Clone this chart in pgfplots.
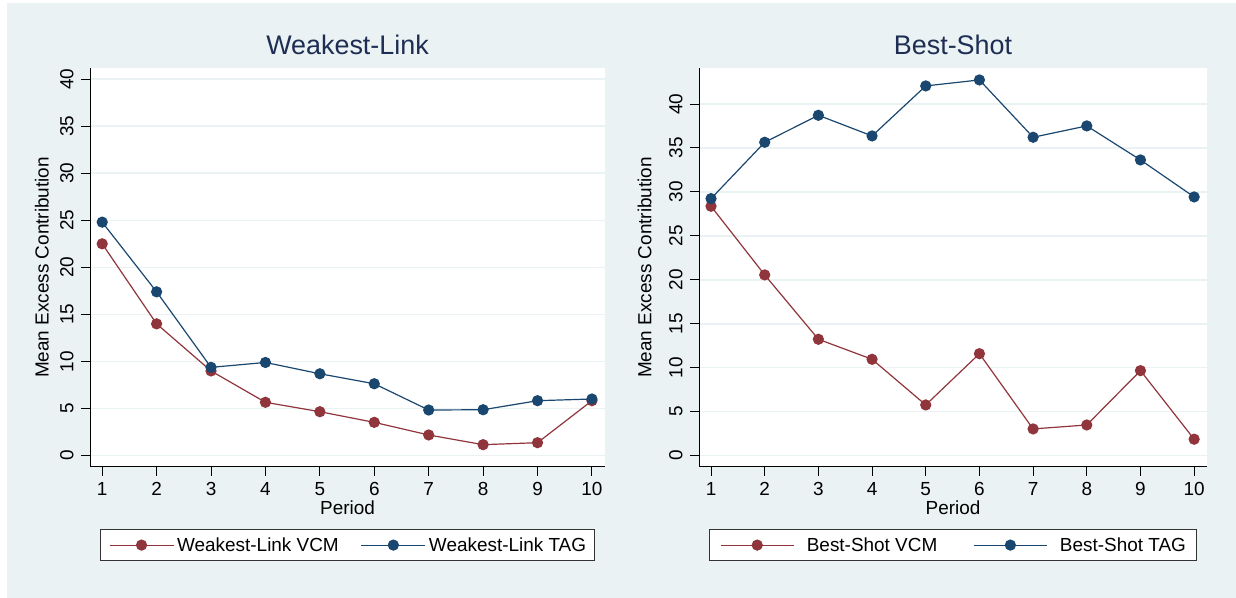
\documentclass[border=0pt]{standalone}
\usepackage{pgfplots}
\pgfplotsset{compat=1.18}
\usepackage{fontspec}
\setmainfont{Liberation Sans}

\definecolor{bgc}{RGB}{234,242,243}
\definecolor{gridc}{RGB}{234,242,243}
\definecolor{snavy}{RGB}{26,71,111}
\definecolor{smaroon}{RGB}{144,53,59}
\definecolor{titlec}{RGB}{30,45,83}

\pgfplotsset{
  stata/.style={
    scale only axis,
    width=#1, height=399bp,
    anchor=south west,
    axis x line*=bottom, axis y line*=left,
    axis line style={-, black, line width=1bp},
    axis background/.style={fill=white},
    tick align=outside,
    major tick length=9bp,
    tick style={black, line width=1bp},
    ymajorgrids, grid style={gridc, line width=1.5bp},
    xtick={1,...,10}, ytick={0,5,...,40},
    xmin=0.776, xmax=10.24,
    /pgf/number format/assume math mode=true,
    ticklabel style={font=\fontsize{19}{19}\selectfont},
    yticklabel style={rotate=90, anchor=south, yshift=4bp},
    xticklabel style={yshift=-3bp},
    xlabel={Period}, ylabel={Mean Excess Contribution},
    label style={font=\fontsize{19}{19}\selectfont},
    xlabel style={at={(axis description cs:0.5,0)}, anchor=base, yshift=-48bp},
    title style={at={(axis description cs:0.5,1)}, anchor=base, yshift=8bp,
      font=\fontsize{27}{27}\selectfont, text=titlec},
    legend columns=2,
    legend cell align=left,
    legend style={at={(0.5,-0.1554)}, anchor=north, draw=black!80, line width=1bp,
      fill=white, font=\fontsize{19}{19}\selectfont, inner ysep=8bp,
      nodes={inner sep=0pt}},
  },
  ser/.style={color=#1, line width=1.2bp, mark=*, mark size=5bp,
    mark options={fill=#1, draw=#1}},
}

\begin{document}
\begin{tikzpicture}[x=1bp,y=1bp]
\fill[white] (0,0) rectangle (1236,598);
\fill[bgc] (7,0) rectangle (1236,595);

% Weakest-Link
\begin{axis}[stata=515bp, at={(90bp,131bp)},
  title={Weakest-Link},
  ymin=-1.2, ymax=41.17,
  ylabel style={at={(axis description cs:0,0.5)}, anchor=base, yshift=41.5bp},
  legend style={inner xsep=8bp,
    /tikz/every odd column/.style={column sep=3bp},
    /tikz/every even column/.style={column sep=22bp}},
  legend image code/.code={\draw[mark repeat=2, mark phase=2, #1]
    plot coordinates {(0bp,0bp) (32bp,0bp) (64bp,0bp)};},
]
\addplot[ser=smaroon] coordinates {
  (1,22.5) (2,14.0) (3,9.0) (4,5.67) (5,4.67) (6,3.54) (7,2.2) (8,1.17) (9,1.38) (10,5.84)};
\addplot[ser=snavy] coordinates {
  (1,24.8) (2,17.4) (3,9.38) (4,9.9) (5,8.7) (6,7.64) (7,4.85) (8,4.88) (9,5.84) (10,6.02)};
\legend{Weakest-Link VCM, Weakest-Link TAG}
\end{axis}

% Best-Shot
\begin{axis}[stata=508bp, at={(699bp,131bp)},
  title={Best-Shot},
  ymin=-1.29, ymax=44.1,
  ylabel style={at={(axis description cs:0,0.5)}, anchor=base, yshift=47.6bp},
  legend style={inner xsep=11bp,
    /tikz/every odd column/.style={column sep=12.5bp},
    /tikz/every even column/.style={column sep=36bp}},
  legend image code/.code={\draw[mark repeat=2, mark phase=2, #1]
    plot coordinates {(0bp,0bp) (36.5bp,0bp) (73bp,0bp)};},
]
\addplot[ser=smaroon] coordinates {
  (1,28.37) (2,20.56) (3,13.24) (4,10.96) (5,5.77) (6,11.6) (7,3.04) (8,3.49) (9,9.67) (10,1.87)};
\addplot[ser=snavy] coordinates {
  (1,29.24) (2,35.65) (3,38.72) (4,36.37) (5,42.06) (6,42.74) (7,36.22) (8,37.51) (9,33.64) (10,29.43)};
\legend{Best-Shot VCM, Best-Shot TAG}
\end{axis}

\pgfresetboundingbox
\useasboundingbox (0,0) rectangle (1236,598);
\end{tikzpicture}
\end{document}
